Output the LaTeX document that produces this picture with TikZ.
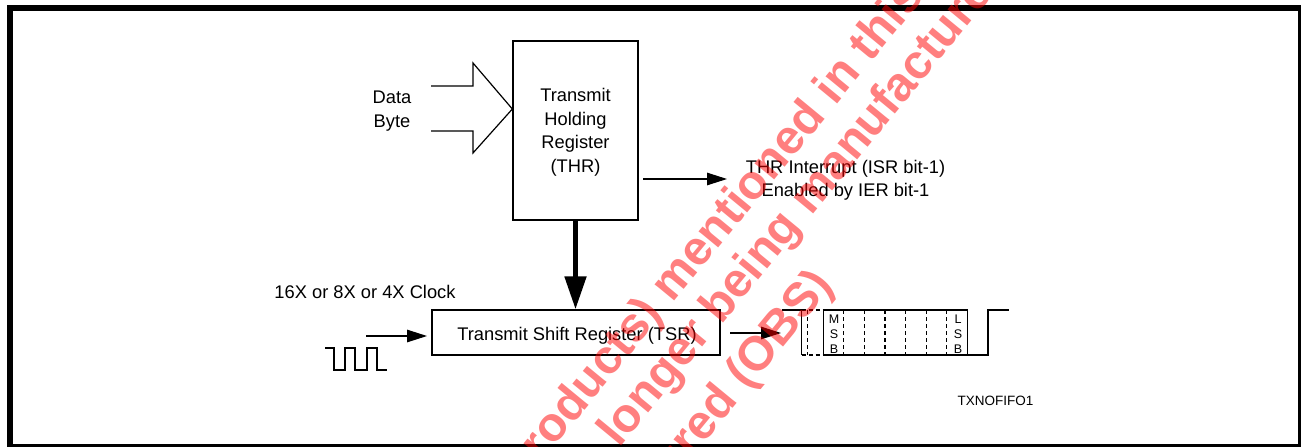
\documentclass[tikz,border=0pt]{standalone}
\usepackage{fontspec}
\setmainfont{Liberation Sans}
\usetikzlibrary{arrows.meta}
\begin{document}
\begin{tikzpicture}[x=1pt,y=-1pt,
  lbl/.style={inner sep=0pt, font=\fontsize{18.3}{23.5}\selectfont, align=center},
  reg/.style={draw, line width=1.3pt, inner sep=0pt},
  thinline/.style={line width=1.2pt},
  sarrow/.style={line width=1.2pt, -{Triangle[length=20pt,width=12.5pt]}},
  barrow/.style={line width=5pt, -{Triangle[length=33pt,width=21pt]}},
  wave/.style={line width=1.3pt},
  dwave/.style={line width=1.2pt, dash pattern=on 4pt off 3pt},
  bitlbl/.style={inner sep=0pt, font=\fontsize{12.5}{15.3}\selectfont, align=center},
  wm/.style={text=red, text opacity=0.5, font=\fontsize{48}{52}\selectfont\bfseries, rotate=50.5, inner sep=0pt, anchor=mid west}
]
\useasboundingbox (0,0) rectangle (1301,447);
\fill[white] (0,0) rectangle (1301,447);
% frame
\draw[line width=6pt, line join=miter] (10,447) -- (10,8) -- (1301,8);
\draw[line width=2.7pt] (1299.7,8) -- (1299.7,447);
\draw[line width=2.7pt] (10,445.7) -- (1301,445.7);

% registers
\node[reg, minimum width=125pt, minimum height=179pt] (thr) at (575.5,130.5) {};
\node[lbl] (thrtxt) at (575.5,132.5) {Transmit\\Holding\\Register\\(THR)};
\node[reg, minimum width=288pt, minimum height=45pt] (tsr) at (576,332.5) {};
\node[lbl, anchor=base] (tsrtxt) at (577,340) {Transmit Shift Register (TSR)};

% data byte input
\coordinate (dbtip) at (thr.west |- 0,109);
\draw[thinline, line join=miter] (431,86) -- (473,86) -- (473,63) -- (dbtip) -- (473,153) -- (473,131) -- (431,131);
\node[lbl] (db) at (392,111) {Data\\Byte};

% THR interrupt
\coordinate (intS) at (643,179);
\coordinate (intE) at (727,179);
\draw[sarrow] (intS) -- (intE);
\node[lbl] (inttxt) at (845.5,180.5) {THR Interrupt (ISR bit-1)\\Enabled by IER bit-1};

% THR -> TSR
\draw[barrow] (thr.south) -- (thr.south |- tsr.north);

% clock
\node[lbl, anchor=base] (clk) at (365,298) {16X or 8X or 4X Clock};
\coordinate (clkS) at (366,336);
\coordinate (clkE) at (427,336);
\draw[sarrow] (clkS) -- (clkE);
\draw[wave] (325,348) -- (334,348) -- (334,370) -- (345,370) -- (345,348) -- (355,348) -- (355,370) -- (367,370) -- (367,348) -- (377,348) -- (377,370) -- (387,370);

% TSR output
\coordinate (outS) at (730,333);
\coordinate (outE) at (781,333);
\draw[sarrow] (outS) -- (outE);

% serial waveform
\draw[wave] (781.7,310) -- (801.7,310) -- (801.7,355);
\draw[dwave] (801.7,310) -- (823.3,310);
\draw[dwave] (801.7,355) -- (823.3,355);
\draw[dwave] (807.5,310) -- (807.5,355);
\draw[wave] (823.3,310) -- (823.3,355);
\draw[wave] (823.3,310) -- (967.3,310) -- (967.3,355);
\draw[wave] (823.3,355) -- (988,355) -- (988,310) -- (1009,310);
\foreach \k in {1,...,6} {
  \draw[dwave] (823.3+20.57*\k,310) -- (823.3+20.57*\k,355);
}
\node[bitlbl] (msb) at (834,334) {M\\S\\B};
\node[bitlbl] (lsb) at (958,334) {L\\S\\B};

\node[inner sep=0pt, font=\fontsize{13.5}{16}\selectfont, anchor=base] (fig) at (995.5,405) {TXNOFIFO1};

% watermark
\begin{scope}
\clip (0,0) rectangle (1301,447);
\node[wm] (wm1) at (520.9,483.3) {products) mentioned in this};
\node[wm] (wm2) at (571.4,502.7) {no longer being manufactured};
\node[wm] (wm3) at (535.3,644.2) {manufactured (OBS)};
\end{scope}
\end{tikzpicture}
\end{document}
